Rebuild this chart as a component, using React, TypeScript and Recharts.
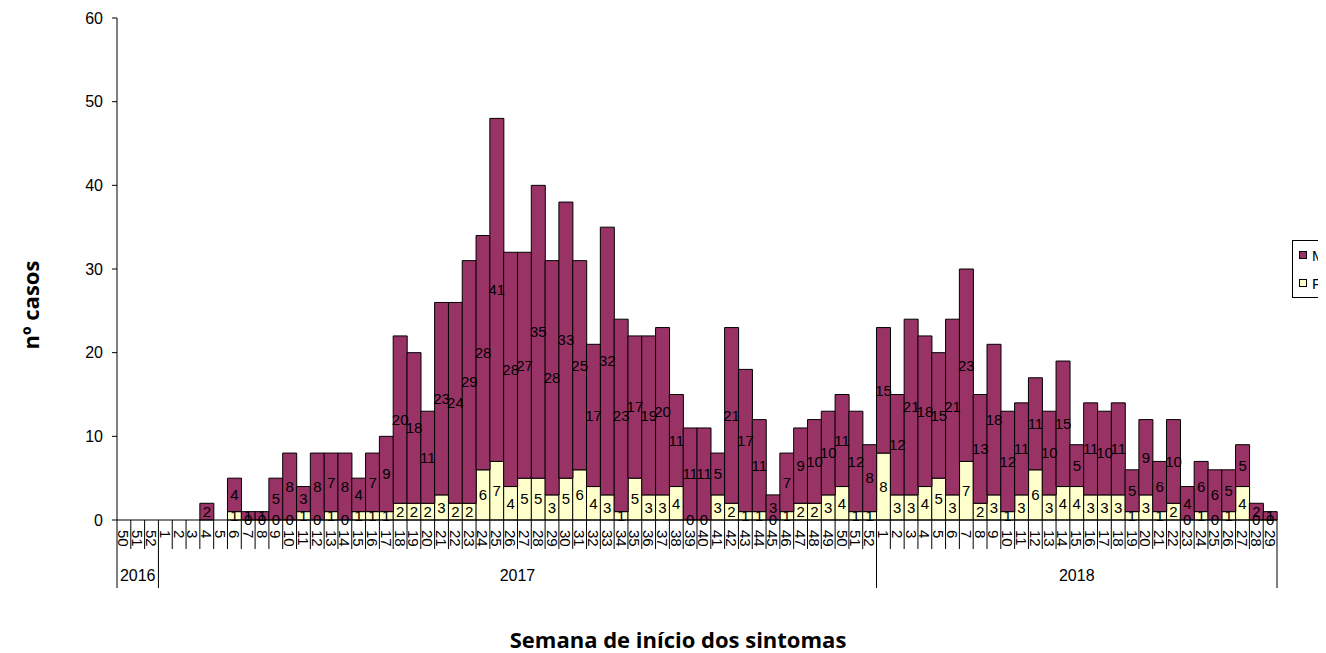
import React from 'react';
import { ComposedChart, Bar, Line, XAxis, YAxis, LabelList } from 'recharts';

// week labels: 2016 w50..52, 2017 w1..52, 2018 w1..29
const weeks = [
  '50', '51', '52',
  '1', '2', '3', '4', '5', '6', '7', '8', '9', '10', '11', '12', '13', '14', '15', '16', '17', '18',
  '19', '20', '21', '22', '23', '24', '25', '26', '27', '28', '29', '30', '31', '32', '33', '34', '35',
  '36', '37', '38', '39', '40', '41', '42', '43', '44', '45', '46', '47', '48', '49', '50', '51', '52',
  '1', '2', '3', '4', '5', '6', '7', '8', '9', '10', '11', '12', '13', '14', '15', '16', '17', '18',
  '19', '20', '21', '22', '23', '24', '25', '26', '27', '28', '29',
];
const years = ['2016', '2017', '2018'];
const weeksPerYear = [3, 52, 29];

const casesM = [
  null, null, null,
  null, null, null, 2, null, 4, 1, 1, 5, 8, 3, 8, 7, 8, 4, 7, 9, 20,
  18, 11, 23, 24, 29, 28, 41, 28, 27, 35, 28, 33, 25, 17, 32, 23, 17,
  19, 20, 11, 11, 11, 5, 21, 17, 11, 3, 7, 9, 10, 10, 11, 12, 8,
  15, 12, 21, 18, 15, 21, 23, 13, 18, 12, 11, 11, 10, 15, 5, 11, 10, 11,
  5, 9, 6, 10, 4, 6, 6, 5, 5, 2, 1,
];
const casesF = [
  null, null, null,
  null, null, null, null, null, 1, 0, 0, 0, 0, 1, 0, 1, 0, 1, 1, 1, 2,
  2, 2, 3, 2, 2, 6, 7, 4, 5, 5, 3, 5, 6, 4, 3, 1, 5,
  3, 3, 4, 0, 0, 3, 2, 1, 1, 0, 1, 2, 2, 3, 4, 1, 1,
  8, 3, 3, 4, 5, 3, 7, 2, 3, 1, 3, 6, 3, 4, 4, 3, 3, 3,
  1, 3, 1, 2, 0, 1, 0, 1, 4, 0, 0,
];
const yTicks = [0, 10, 20, 30, 40, 50, 60];

const PURPLE = '#993366';
const CREAM = '#FFFFCC';
const GRAY = '#8c8c8c';

// fMid = middle of the F segment, used to place F labels (zero-height bars get no label otherwise)
const data = weeks.map((w, i) => ({
  key: `${i}-${w}`,
  week: w,
  M: casesM[i],
  F: casesF[i],
  fMid: casesF[i] == null ? null : casesF[i]! / 2,
}));

const PLOT_W = 1160;
const STEP = PLOT_W / weeks.length;
const WEEK_ROW = 29;
const AXIS_H = 68;

// index where each year group starts
const groupStarts = weeksPerYear.map((_, g) => weeksPerYear.slice(0, g).reduce((a, b) => a + b, 0));

const WeekTick = (props: any) => {
  const { x, y, index } = props;
  const g = groupStarts.findIndex((s, k) => index >= s && index < s + weeksPerYear[k]);
  const isEnd = index === groupStarts[g] + weeksPerYear[g] - 1;
  const isStart = index === groupStarts[g];
  return (
    <g>
      {index === 0 && (
        <line x1={x - STEP / 2} x2={x - STEP / 2} y1={y} y2={y + AXIS_H} stroke="#000" />
      )}
      <line x1={x + STEP / 2} x2={x + STEP / 2} y1={y} y2={y + (isEnd ? AXIS_H : WEEK_ROW)} stroke="#000" />
      <text
        transform={`translate(${x},${y + 10}) rotate(90)`}
        textAnchor="start"
        dominantBaseline="central"
        fontSize={15}
        fill="#000"
      >
        {weeks[index]}
      </text>
      {isStart && (
        <text
          x={x - STEP / 2 + (weeksPerYear[g] * STEP) / 2}
          y={y + 55}
          textAnchor="middle"
          dominantBaseline="central"
          fontSize={16}
          fill="#000"
        >
          {years[g]}
        </text>
      )}
    </g>
  );
};

export default function App() {
  return (
    <div
      style={{
        position: 'relative',
        width: 1318,
        height: 645,
        overflow: 'hidden',
        fontFamily: '"Liberation Sans", Arial, sans-serif',
      }}
    >
      <style>{'html, body { overflow: hidden; }'}</style>
      <ComposedChart
        width={1318}
        height={640}
        data={data}
        margin={{ top: 10, right: 49, left: 49, bottom: 60 }}
        barCategoryGap={0}
        barGap={0}
      >
        <XAxis
          dataKey="key"
          interval={0}
          tickSize={0}
          tickMargin={0}
          height={AXIS_H}
          axisLine={{ stroke: '#000' }}
          tick={(p: any) => <WeekTick {...p} />}
        />
        <XAxis
          xAxisId="top"
          orientation="top"
          dataKey="key"
          height={0}
          tick={false}
          tickLine={false}
          axisLine={{ stroke: GRAY }}
        />
        <YAxis
          domain={[0, 60]}
          ticks={yTicks}
          interval={0}
          width={60}
          tickSize={5}
          tickMargin={9}
          axisLine={{ stroke: '#000' }}
          tickLine={{ stroke: '#000' }}
          tick={{ fill: '#000', fontSize: 16 }}
        />
        <YAxis
          yAxisId="right"
          orientation="right"
          domain={[0, 60]}
          width={0}
          tick={false}
          tickLine={false}
          axisLine={{ stroke: GRAY }}
        />
        <Bar dataKey="F" name="F" stackId="s" fill={CREAM} stroke="#000" strokeWidth={1} isAnimationActive={false} />
        <Bar dataKey="M" name="M" stackId="s" fill={PURPLE} stroke="#000" strokeWidth={1} isAnimationActive={false}>
          <LabelList dataKey="M" position="center" fill="#000" fontSize={15} />
        </Bar>
        <Line
          dataKey="fMid"
          stroke="none"
          dot={false}
          activeDot={false}
          legendType="none"
          isAnimationActive={false}
        >
          <LabelList dataKey="F" position="center" fill="#000" fontSize={15} />
        </Line>
      </ComposedChart>

      <svg
        width={1318}
        height={645}
        style={{ position: 'absolute', left: 0, top: 0, pointerEvents: 'none' }}
      >
        <text
          transform="translate(22,297) rotate(-90)"
          textAnchor="middle"
          dominantBaseline="central"
          fontFamily='"Open Sans", sans-serif'
          fontWeight="bold"
          fontSize={22}
          fill="#000"
        >
          nº casos
        </text>
        <text
          x={670}
          y={640}
          textAnchor="middle"
          fontFamily='"Open Sans", sans-serif'
          fontWeight="bold"
          fontSize={22}
          fill="#000"
        >
          Semana de início dos sintomas
        </text>

        <rect x={1284.5} y={232.5} width={60} height={57} fill="#fff" stroke="#000" />
        <rect x={1291.5} y={243.5} width={7} height={7} fill={PURPLE} stroke="#000" />
        <text x={1304} y={247} dominantBaseline="central" fontSize={15} fill="#000">
          M
        </text>
        <rect x={1291.5} y={271.5} width={7} height={7} fill={CREAM} stroke="#000" />
        <text x={1304} y={275} dominantBaseline="central" fontSize={15} fill="#000">
          F
        </text>
      </svg>
    </div>
  );
}
